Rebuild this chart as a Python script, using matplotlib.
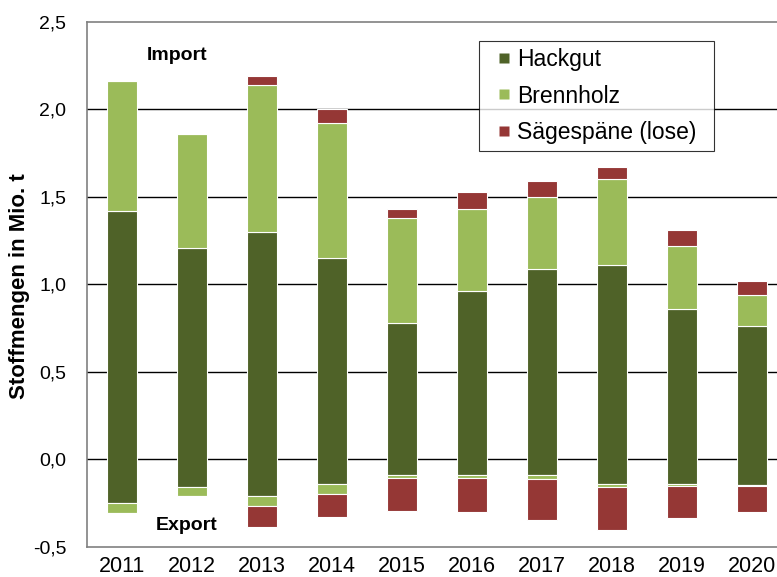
import numpy as np
import matplotlib
matplotlib.use('Agg')
import matplotlib.pyplot as plt
from matplotlib.lines import Line2D

# ── Data (Mio. t) ────────────────────────────────────────────
years = ['2011', '2012', '2013', '2014', '2015',
         '2016', '2017', '2018', '2019', '2020']

hackgut_imp   = [1.42, 1.21, 1.30, 1.15, 0.78, 0.96, 1.09, 1.11, 0.86, 0.76]
brennholz_imp = [0.74, 0.65, 0.84, 0.77, 0.60, 0.47, 0.41, 0.49, 0.36, 0.18]
saege_imp     = [0.00, 0.00, 0.05, 0.08, 0.05, 0.10, 0.09, 0.07, 0.09, 0.08]

hackgut_exp   = [-0.25, -0.16, -0.21, -0.14, -0.09, -0.09, -0.09, -0.14, -0.14, -0.15]
brennholz_exp = [-0.06, -0.05, -0.06, -0.06, -0.017, -0.02, -0.023, -0.021, -0.015, -0.004]
saege_exp     = [0.00, 0.00, -0.12, -0.13, -0.19, -0.19, -0.235, -0.245, -0.18, -0.15]

series_names = ['Hackgut', 'Brennholz', 'Sägespäne (lose)']
colors       = ['#4F6228', '#9BBB59', '#953735']

y_ticks = [-0.5, 0.0, 0.5, 1.0, 1.5, 2.0, 2.5]

plt.rcParams['font.family'] = ['Liberation Sans', 'DejaVu Sans']

# ── Figure ───────────────────────────────────────────────────
fig = plt.figure(figsize=(7.77, 5.77), dpi=100)
ax = fig.add_axes([87 / 777, 1 - 546.7 / 577, 700 / 777, 524.7 / 577])

x = np.arange(len(years))
width = 0.44
edge = dict(edgecolor='white', linewidth=0.8, zorder=3)

h_imp = np.array(hackgut_imp)
h_exp = np.array(hackgut_exp)
b_imp = np.array(brennholz_imp)
b_exp = np.array(brennholz_exp)

# Hackgut as one bar through zero (no seam at the zero line)
ax.bar(x, h_imp - h_exp, width, bottom=h_exp, color=colors[0], **edge)
# Import side
ax.bar(x, b_imp, width, bottom=h_imp, color=colors[1], **edge)
ax.bar(x, saege_imp, width, bottom=h_imp + b_imp, color=colors[2], **edge)
# Export side
ax.bar(x, b_exp, width, bottom=h_exp, color=colors[1], **edge)
ax.bar(x, saege_exp, width, bottom=h_exp + b_exp, color=colors[2], **edge)

# ── Axes styling ─────────────────────────────────────────────
ax.set_xlim(-0.5, len(years) - 0.5)
ax.set_ylim(-0.5, 2.5)
ax.set_yticks(y_ticks)
ax.set_yticklabels([f'{v:.1f}'.replace('.', ',') for v in y_ticks], fontsize=14)
ax.set_xticks(x)
ax.set_xticklabels(years, fontsize=15.5)
ax.tick_params(axis='y', length=0, pad=15)
ax.tick_params(axis='x', length=0, pad=6.5)

ax.set_axisbelow(True)
for v in y_ticks[1:-1]:
    ax.axhline(v, color='black', linewidth=1.0, zorder=1)

for s in ax.spines.values():
    s.set_color('#808080')
    s.set_linewidth(1.2)

fig.text(20 / 777, 1 - 286 / 577, 'Stoffmengen in Mio. t', rotation=90,
         ha='center', va='center', fontsize=16, fontweight='bold')

ax.text(0.79, 2.31, 'Import', ha='center', va='center',
        fontsize=14, fontweight='bold')
ax.text(0.93, -0.377, 'Export', ha='center', va='center',
        fontsize=14, fontweight='bold')

handles = [Line2D([], [], linestyle='none', marker='s', markersize=7.2,
                  markerfacecolor=c, markeredgecolor='none') for c in colors]
leg_h = 106 / 524.7
leg = ax.legend(handles, series_names, loc='upper left',
                bbox_to_anchor=(392 / 700, 0.964 - leg_h, 235 / 700, leg_h),
                mode='expand', borderaxespad=0,
                fontsize=16.5, frameon=True, fancybox=False,
                handlelength=1.6, handletextpad=-0.25,
                labelspacing=0.6, borderpad=0.3)
leg.get_frame().set_edgecolor('black')
leg.get_frame().set_linewidth(0.8)

plt.savefig('out.png', dpi=100)
